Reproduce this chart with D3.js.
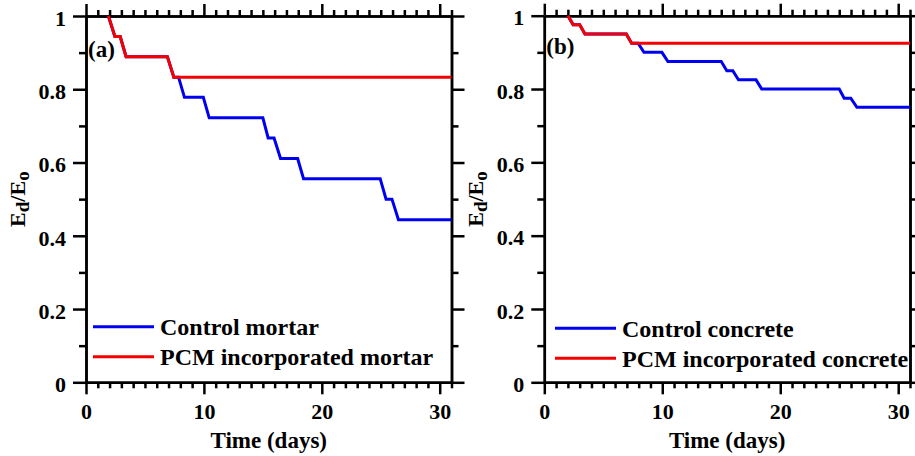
<!DOCTYPE html>
<html>
<head>
<meta charset="utf-8">
<script src="https://cdn.jsdelivr.net/npm/d3@7"></script>
<style>
  html, body { margin: 0; padding: 0; background: #fff; }
  svg { display: block; }
  svg text { font-family: "Times New Roman", "Liberation Serif", Tinos, "DejaVu Serif", serif !important; font-weight: bold; fill: #000; }
</style>
</head>
<body>
<svg id="chart" width="915" height="456"></svg>
<script>
// ---------- DATA ----------
const panelLabels = ["(a)", "(b)"];
const seriesNamesA = ["Control mortar", "PCM incorporated mortar"];
const seriesNamesB = ["Control concrete", "PCM incorporated concrete"];
const xTickValues = [0, 10, 20, 30];
const yTickValues = [0, 0.2, 0.4, 0.6, 0.8, 1];
const yTickLabels = ["0", "0.2", "0.4", "0.6", "0.8", "1"];

// Panel (a) — mortar
const tA_control = [1.9, 2.45, 2.9, 3.4, 6.9, 7.45, 7.85, 8.35, 9.95, 10.45, 15.0, 15.45, 15.95, 16.5, 17.95, 18.45, 24.95, 25.45, 25.95, 26.5, 31];
const eA_control = [1, 0.944, 0.944, 0.889, 0.889, 0.833, 0.833, 0.778, 0.778, 0.722, 0.722, 0.667, 0.667, 0.611, 0.611, 0.556, 0.556, 0.5, 0.5, 0.444, 0.444];
const tA_pcm = [1.9, 2.45, 2.9, 3.4, 6.9, 7.45, 31];
const eA_pcm = [1, 0.944, 0.944, 0.889, 0.889, 0.833, 0.833];

// Panel (b) — concrete
const tB_control = [2.0, 2.45, 3.0, 3.45, 6.95, 7.4, 7.95, 8.45, 9.97, 10.48, 15.0, 15.47, 15.98, 16.46, 17.95, 18.43, 25.0, 25.42, 25.98, 26.5, 31];
const eB_control = [1, 0.975, 0.975, 0.95, 0.95, 0.925, 0.925, 0.9, 0.9, 0.875, 0.875, 0.85, 0.85, 0.825, 0.825, 0.8, 0.8, 0.775, 0.775, 0.75, 0.75];
const tB_pcm = [2.0, 2.45, 3.0, 3.45, 6.95, 7.4, 31];
const eB_pcm = [1, 0.975, 0.975, 0.95, 0.95, 0.925, 0.925];

// ---------- LAYOUT ----------
const FONT = '"Times New Roman", "Liberation Serif", Tinos, "DejaVu Serif", serif';
const COLORS = { control: "#0000f0", pcm: "#f50000" };
const panels = [
  { left: 86, right: 451.5, top: 16, bottom: 382.3, label: panelLabels[0], labelBase: 57,
    names: seriesNamesA, legendX: 93, legendY: 326.7,
    series: [ { t: tA_control, e: eA_control, c: COLORS.control }, { t: tA_pcm, e: eA_pcm, c: COLORS.pcm } ] },
  { left: 544.3, right: 910, top: 15.7, bottom: 382.3, label: panelLabels[1], labelBase: 54,
    names: seriesNamesB, legendX: 555, legendY: 328.3,
    series: [ { t: tB_control, e: eB_control, c: COLORS.control }, { t: tB_pcm, e: eB_pcm, c: COLORS.pcm } ] }
];

const svg = d3.select("#chart");

panels.forEach(p => {
  const x = d3.scaleLinear().domain([0, 31]).range([p.left, p.right]);
  const y = d3.scaleLinear().domain([0, 1]).range([p.bottom, p.top]);
  const g = svg.append("g");

  const minorX = d3.range(0, 32, 1).filter(v => xTickValues.indexOf(v) < 0);
  const minorY = d3.range(1, 10, 2).map(v => v / 10);

  function styleAxis(sel) {
    sel.attr("font-family", FONT);
    sel.select(".domain").attr("stroke", "#000").attr("stroke-width", 2.5);
    sel.selectAll(".tick line").attr("stroke", "#000").attr("stroke-width", 2.5);
  }

  // Minor ticks
  const axes = [
    [d3.axisBottom(x).tickValues(minorX).tickSize(6).tickFormat(""), `translate(0,${p.bottom})`],
    [d3.axisTop(x).tickValues(minorX).tickSize(6).tickFormat(""), `translate(0,${p.top})`],
    [d3.axisLeft(y).tickValues(minorY).tickSize(7).tickFormat(""), `translate(${p.left},0)`],
    [d3.axisRight(y).tickValues(minorY).tickSize(7).tickFormat(""), `translate(${p.right},0)`]
  ];
  axes.forEach(([ax, tr]) => {
    g.append("g").attr("transform", tr).call(ax.tickSizeOuter(0)).call(styleAxis);
  });

  // Major ticks
  const bx = g.append("g").attr("transform", `translate(0,${p.bottom})`)
    .call(d3.axisBottom(x).tickValues(xTickValues).tickSize(12).tickSizeOuter(0).tickPadding(8).tickFormat(d3.format("d")))
    .call(styleAxis);
  bx.selectAll(".tick text").attr("font-size", 22).attr("font-family", FONT).attr("font-weight", "bold").attr("fill", "#000").attr("dy", "0.75em");
  g.append("g").attr("transform", `translate(0,${p.top})`)
    .call(d3.axisTop(x).tickValues(xTickValues).tickSize(12).tickSizeOuter(0).tickFormat(""))
    .call(styleAxis);
  const ly = g.append("g").attr("transform", `translate(${p.left},0)`)
    .call(d3.axisLeft(y).tickValues(yTickValues).tickSize(13).tickSizeOuter(0).tickPadding(7)
      .tickFormat((d, i) => yTickLabels[i]))
    .call(styleAxis);
  ly.selectAll(".tick text").attr("font-size", 22).attr("font-family", FONT).attr("font-weight", "bold").attr("fill", "#000").attr("dy", "0.42em");
  g.append("g").attr("transform", `translate(${p.right},0)`)
    .call(d3.axisRight(y).tickValues(yTickValues).tickSize(13).tickSizeOuter(0).tickFormat(""))
    .call(styleAxis);

  // Series (control first so PCM is on top)
  const line = d3.line().x(d => x(d[0])).y(d => y(d[1]));
  p.series.forEach(s => {
    const pts = s.t.map((t, i) => [t, s.e[i]]);
    g.append("path").datum(pts).attr("d", line)
      .attr("fill", "none").attr("stroke", s.c).attr("stroke-width", 3)
      .attr("stroke-linejoin", "miter");
  });

  // Panel label
  g.append("text").attr("x", p.left + 2).attr("y", p.labelBase)
    .attr("font-family", FONT).attr("font-size", 23).text(p.label);

  // Legend
  p.series.forEach((s, i) => {
    const ly0 = p.legendY + i * 30;
    g.append("line").attr("x1", p.legendX).attr("x2", p.legendX + 61)
      .attr("y1", ly0).attr("y2", ly0).attr("stroke", s.c).attr("stroke-width", 3);
    g.append("text").attr("x", p.legendX + 67).attr("y", ly0 + 8.5)
      .attr("font-family", FONT).attr("font-size", 24).text(p.names[i]);
  });

  // X axis title
  g.append("text").attr("x", (p.left + p.right) / 2).attr("y", 448)
    .attr("text-anchor", "middle").attr("font-family", FONT).attr("font-size", 23).text("Time (days)");

  // Y axis title  E_d / E_o
  const yt = g.append("text")
    .attr("transform", `translate(${p.left - 61},${(p.top + p.bottom) / 2}) rotate(-90)`)
    .attr("text-anchor", "middle").attr("font-family", FONT).attr("font-size", 22);
  yt.append("tspan").text("E");
  yt.append("tspan").attr("font-size", 19).attr("dy", 4).text("d");
  yt.append("tspan").attr("dy", -4).text("/E");
  yt.append("tspan").attr("font-size", 19).attr("dy", 4).text("o");
});
</script>
</body>
</html>
